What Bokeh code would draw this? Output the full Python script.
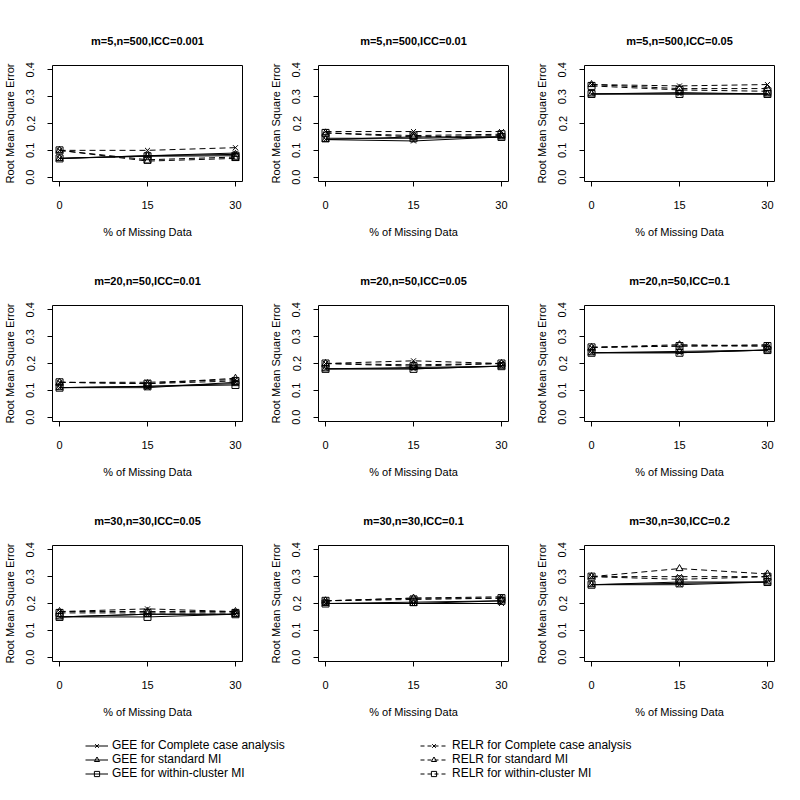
import math
from bokeh.plotting import figure
from bokeh.layouts import gridplot, column
from bokeh.models import Range1d, FixedTicker, Legend, LegendItem, LinearAxis
from bokeh.embed import file_html
from bokeh.resources import INLINE

# ---------------- data ----------------
x_pct = [0, 15, 30]
x_ticks = [0, 15, 30]
y_ticks = [0.0, 0.1, 0.2, 0.3, 0.4]
y_tick_labels = ["0.0", "0.1", "0.2", "0.3", "0.4"]

titles = [
    "m=5,n=500,ICC=0.001", "m=5,n=500,ICC=0.01", "m=5,n=500,ICC=0.05",
    "m=20,n=50,ICC=0.01", "m=20,n=50,ICC=0.05", "m=20,n=50,ICC=0.1",
    "m=30,n=30,ICC=0.05", "m=30,n=30,ICC=0.1", "m=30,n=30,ICC=0.2",
]

# one row per panel, values at 0%, 15%, 30% missing
gee_cc = [
    [0.07, 0.08, 0.09], [0.14, 0.135, 0.15], [0.31, 0.31, 0.31],
    [0.11, 0.11, 0.13], [0.18, 0.18, 0.19], [0.24, 0.24, 0.25],
    [0.15, 0.16, 0.16], [0.20, 0.20, 0.20], [0.27, 0.27, 0.28],
]
gee_std = [
    [0.07, 0.08, 0.085], [0.14, 0.15, 0.15], [0.31, 0.315, 0.31],
    [0.11, 0.115, 0.125], [0.18, 0.185, 0.19], [0.24, 0.245, 0.25],
    [0.15, 0.16, 0.16], [0.20, 0.20, 0.21], [0.27, 0.28, 0.28],
]
gee_wc = [
    [0.07, 0.078, 0.08], [0.145, 0.145, 0.15], [0.31, 0.31, 0.31],
    [0.11, 0.115, 0.12], [0.18, 0.18, 0.19], [0.24, 0.24, 0.25],
    [0.15, 0.15, 0.16], [0.20, 0.205, 0.21], [0.27, 0.275, 0.28],
]
relr_cc = [
    [0.10, 0.10, 0.11], [0.17, 0.17, 0.17], [0.345, 0.34, 0.345],
    [0.13, 0.13, 0.14], [0.20, 0.21, 0.20], [0.26, 0.265, 0.27],
    [0.17, 0.18, 0.17], [0.21, 0.22, 0.225], [0.30, 0.30, 0.30],
]
relr_std = [
    [0.10, 0.06, 0.07], [0.165, 0.15, 0.155], [0.345, 0.33, 0.33],
    [0.13, 0.125, 0.145], [0.20, 0.195, 0.20], [0.26, 0.27, 0.265],
    [0.17, 0.17, 0.17], [0.21, 0.22, 0.22], [0.30, 0.33, 0.31],
]
relr_wc = [
    [0.10, 0.065, 0.075], [0.165, 0.155, 0.16], [0.34, 0.325, 0.32],
    [0.13, 0.125, 0.135], [0.20, 0.19, 0.20], [0.26, 0.265, 0.265],
    [0.165, 0.165, 0.165], [0.21, 0.215, 0.22], [0.30, 0.29, 0.30],
]

series = [
    ("GEE for Complete case analysis", gee_cc, "solid", "x"),
    ("GEE for standard MI", gee_std, "solid", "triangle"),
    ("GEE for within-cluster MI", gee_wc, "solid", "square"),
    ("RELR for Complete case analysis", relr_cc, "6 4", "x"),
    ("RELR for standard MI", relr_std, "6 4", "triangle"),
    ("RELR for within-cluster MI", relr_wc, "6 4", "square"),
]

FONT = "Liberation Sans"
PW, PH = 266, 240

panels = []
for i, t in enumerate(titles):
    p = figure(width=PW, height=PH, output_backend="svg", toolbar_location=None,
               x_range=Range1d(-1.2, 31.2), y_range=Range1d(-0.016, 0.416),
               min_border_left=52, min_border_right=24, min_border_top=65,
               min_border_bottom=51)
    p.grid.visible = False
    p.outline_line_color = "black"
    p.outline_line_width = 1
    p.outline_line_alpha = 1
    p.background_fill_color = "white"
    p.border_fill_color = "white"

    xa = p.below[0]
    ya = p.left[0]
    xa.ticker = FixedTicker(ticks=x_ticks)
    ya.ticker = FixedTicker(ticks=y_ticks)
    ya.major_label_overrides = {v: s for v, s in zip(y_ticks, y_tick_labels)}
    ya.major_label_orientation = "vertical"
    xa.axis_label = "% of Missing Data"
    ya.axis_label = "Root Mean Square Error"
    for ax in (xa, ya):
        ax.axis_line_color = None
        ax.major_tick_in = 0
        ax.major_tick_out = 5
        ax.major_tick_line_color = "black"
        ax.minor_tick_line_color = None
        ax.major_label_text_font = FONT
        ax.major_label_text_font_size = "11px"
        ax.major_label_text_color = "black"
        ax.axis_label_text_font = FONT
        ax.axis_label_text_font_size = "11px"
        ax.axis_label_text_font_style = "normal"
        ax.axis_label_text_color = "black"
    xa.major_label_standoff = 14
    xa.axis_label_standoff = 14
    ya.major_label_standoff = 13
    ya.axis_label_standoff = 8

    # panel title as the label of a bare axis above the frame
    tax = LinearAxis(ticker=FixedTicker(ticks=[]), axis_label=t,
                     axis_line_color=None, major_tick_line_color=None,
                     minor_tick_line_color=None, major_label_text_alpha=0)
    tax.axis_label_text_font = FONT
    tax.axis_label_text_font_size = "11px"
    tax.axis_label_text_font_style = "bold"
    tax.axis_label_text_color = "black"
    tax.axis_label_standoff = 19
    p.add_layout(tax, "above")

    for name, data, dash, marker in series:
        ys = data[i]
        p.line(x_pct, ys, line_color="black", line_width=1, line_dash=dash)
        p.scatter(x_pct, ys, marker=marker, size=7, line_color="black",
                  fill_color=None, line_width=1)
    panels.append(p)

# legend figure
lf = figure(width=3 * PW, height=80, output_backend="svg", toolbar_location=None,
            x_range=Range1d(0, 1), y_range=Range1d(0, 1),
            min_border=0, min_border_left=0, min_border_right=0,
            min_border_top=0, min_border_bottom=0)
lf.axis.visible = False
lf.grid.visible = False
lf.outline_line_color = None
lf.background_fill_color = "white"
lf.border_fill_color = "white"

items_left, items_right = [], []
for k, (name, data, dash, marker) in enumerate(series):
    lr = lf.line([-10, -9], [-10, -10], line_color="black", line_width=1,
                 line_dash="solid" if dash == "solid" else "4 3")
    sr = lf.scatter([-10], [-10], marker=marker, size=6, line_color="black",
                    fill_color=None)
    item = LegendItem(label=name, renderers=[lr, sr])
    (items_left if k < 3 else items_right).append(item)

for items, loc, gw, so in ((items_left, (85, 20), 23, 4), (items_right, (420, 20), 27, 5)):
    lg = Legend(items=items, location=loc, orientation="vertical")
    lg.glyph_width = gw
    lg.glyph_height = 13
    lg.label_height = 13
    lg.spacing = 0
    lg.padding = 0
    lg.margin = 0
    lg.label_standoff = so
    lg.label_text_font = FONT
    lg.label_text_font_size = "12px"
    lg.label_text_color = "black"
    lg.border_line_color = None
    lg.background_fill_alpha = 0
    lf.add_layout(lg, "center")

grid = gridplot([panels[0:3], panels[3:6], panels[6:9]], toolbar_location=None)
layout = column(grid, lf, spacing=0)

open("out.html", "w").write(file_html(layout, INLINE))
